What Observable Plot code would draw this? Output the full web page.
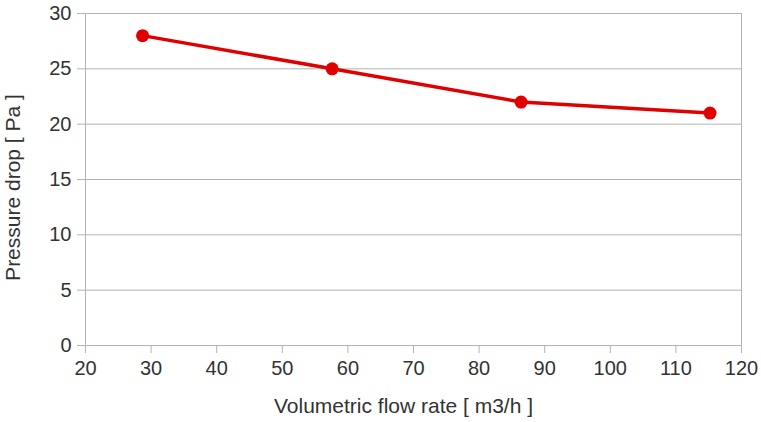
<!DOCTYPE html>
<html>
<head>
<meta charset="utf-8">
<script src="https://cdn.jsdelivr.net/npm/d3@7"></script>
<script src="https://cdn.jsdelivr.net/npm/@observablehq/plot@0.6"></script>
<style>
  html, body { margin: 0; padding: 0; background: #fff; }
  #chart svg { display: block; }
</style>
</head>
<body>
<div id="chart"></div>
<script>
const flowRates = [28.7, 57.6, 86.4, 115.2];
const pressureDrops = [28, 25, 22, 21];
const xTicks = [20, 30, 40, 50, 60, 70, 80, 90, 100, 110, 120];
const yTicks = [0, 5, 10, 15, 20, 25, 30];
const xTitle = "Volumetric flow rate [ m3/h ]";
const yTitle = "Pressure drop [ Pa ]";

const data = flowRates.map((x, i) => ({x, y: pressureDrops[i]}));

const chart = Plot.plot({
  width: 761,
  height: 422,
  marginLeft: 85,
  marginRight: 20,
  marginTop: 13,
  marginBottom: 77,
  style: {fontFamily: "'Liberation Sans', Arial, sans-serif", fontSize: "20px", color: "#333", background: "#fff"},
  x: {domain: [20, 120]},
  y: {domain: [0, 30]},
  marks: [
    Plot.gridY(yTicks, {stroke: "#b3b3b3", strokeOpacity: 1, strokeWidth: 1}),
    Plot.ruleX([20, 120], {stroke: "#b3b3b3", strokeWidth: 1}),
    Plot.axisY(yTicks, {tickSize: 8, tickPadding: 6, stroke: "#b3b3b3", fill: "#333", label: null}),
    Plot.axisX(xTicks, {tickSize: 8, tickPadding: 7, stroke: "#b3b3b3", fill: "#333", label: null}),
    Plot.text([xTitle], {frameAnchor: "bottom", lineAnchor: "top", dy: 53, dx: -10, fontSize: 21, fill: "#333"}),
    Plot.text([yTitle], {frameAnchor: "left", textAnchor: "middle", lineAnchor: "middle", rotate: -90, dx: -72, dy: 8, fontSize: 21, fill: "#333"}),
    Plot.line(data, {x: "x", y: "y", stroke: "#e00000", strokeWidth: 3.5}),
    Plot.dot(data, {x: "x", y: "y", fill: "#e00000", r: 6.5})
  ]
});
document.getElementById("chart").appendChild(chart);
</script>
</body>
</html>
